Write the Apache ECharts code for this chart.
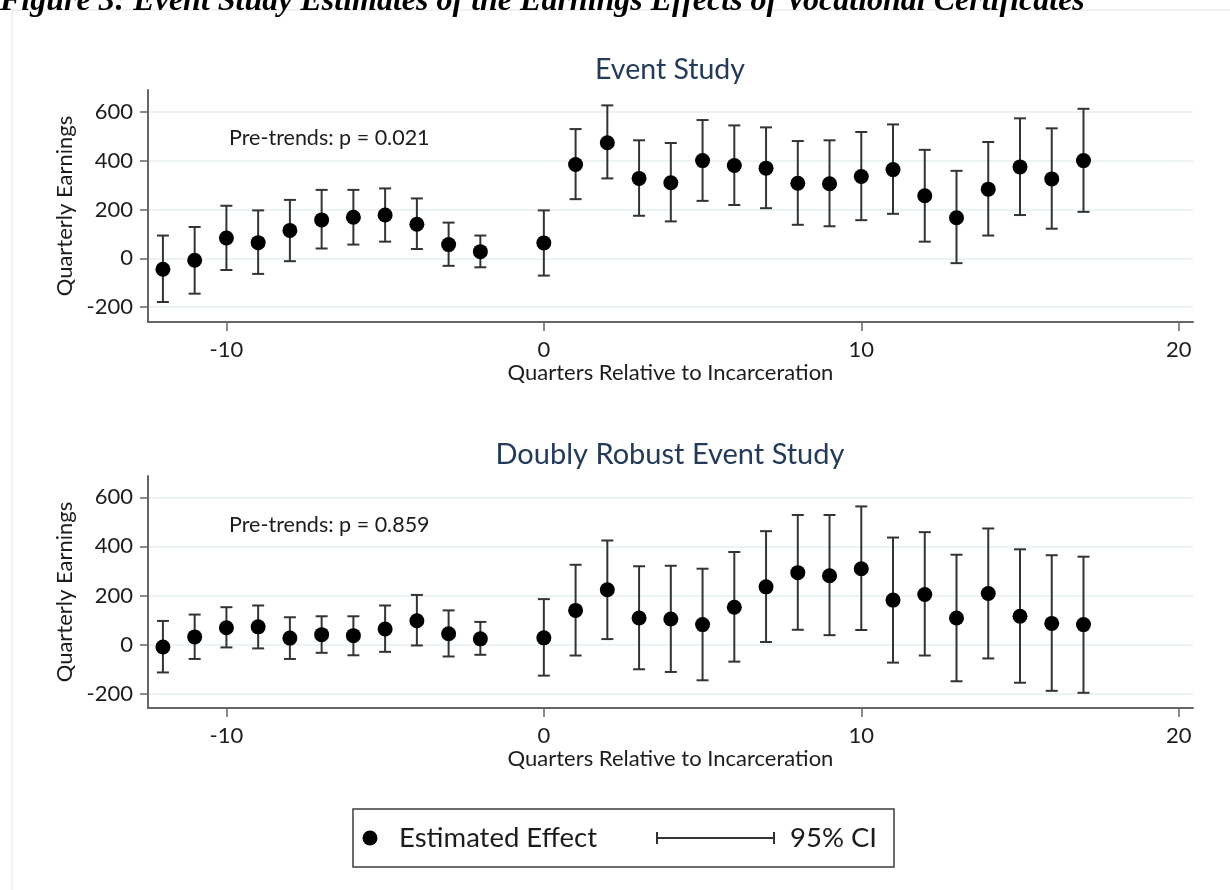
<!DOCTYPE html>
<html>
<head>
<meta charset="utf-8">
<script src="https://cdn.jsdelivr.net/npm/echarts@6/dist/echarts.min.js"></script>
<style>
  html, body { margin: 0; padding: 0; background: #fff; }
  #chart { width: 1230px; height: 890px; }
</style>
</head>
<body>
<div id="chart"></div>
<script>
// ---- data ----
const quarters = [-12, -11, -10, -9, -8, -7, -6, -5, -4, -3, -2, 0, 1, 2, 3, 4, 5, 6, 7, 8, 9, 10, 11, 12, 13, 14, 15, 16, 17];

// Event Study
const esEst = [-45, -8, 83, 64, 114, 157, 168, 177, 139, 56, 27, 63, 384, 473, 327, 309, 400, 380, 369, 307, 305, 335, 363, 256, 166, 283, 374, 325, 400];
const esLo  = [-179, -145, -48, -64, -12, 40, 56, 68, 38, -31, -37, -71, 242, 327, 174, 151, 235, 218, 205, 137, 131, 156, 182, 68, -20, 93, 177, 121, 190];
const esHi  = [93, 128, 215, 196, 239, 280, 280, 286, 245, 146, 93, 196, 529, 626, 483, 472, 566, 544, 536, 480, 483, 517, 548, 444, 358, 476, 573, 532, 612];

// Doubly Robust Event Study
const drEst = [-10, 31, 68, 72, 26, 40, 36, 63, 97, 44, 23, 27, 139, 223, 108, 104, 81, 152, 235, 293, 280, 309, 181, 204, 108, 208, 115, 86, 81];
const drLo  = [-114, -59, -12, -16, -59, -34, -44, -30, -4, -49, -42, -127, -45, 22, -101, -112, -146, -70, 10, 60, 38, 59, -74, -45, -150, -57, -156, -189, -197];
const drHi  = [96, 122, 152, 159, 111, 115, 115, 159, 202, 139, 92, 185, 325, 424, 319, 321, 309, 377, 462, 528, 528, 563, 436, 458, 366, 473, 388, 364, 358];

const xTickValues = [-10, 0, 10, 20];
const yTickValues = [-200, 0, 200, 400, 600];

const panelTitles = ['Event Study', 'Doubly Robust Event Study'];
const preTrendNotes = ['Pre-trends: p = 0.021', 'Pre-trends: p = 0.859'];
const xAxisName = 'Quarters Relative to Incarceration';
const yAxisName = 'Quarterly Earnings';
const legendLabels = ['Estimated Effect', '95% CI'];
const caption = 'Figure 3: Event Study Estimates of the Earnings Effects of Vocational Certificates';

// ---- chart ----
const FONT = 'Lato, "Open Sans", sans-serif';
const TXT = '#1c1c1c';
const AXC = '#666666';

function toPoints(est) { return quarters.map((q, i) => [q, est[i]]); }
function toBars(lo, hi) { return quarters.map((q, i) => [q, lo[i], hi[i]]); }

function renderErr(params, api) {
  const x = api.value(0);
  const pLo = api.coord([x, api.value(1)]);
  const pHi = api.coord([x, api.value(2)]);
  const hw = 6;
  const st = { stroke: '#333333', lineWidth: 2 };
  return {
    type: 'group',
    children: [
      { type: 'line', shape: { x1: pLo[0], y1: pLo[1], x2: pHi[0], y2: pHi[1] }, style: st },
      { type: 'line', shape: { x1: pLo[0] - hw, y1: pLo[1], x2: pLo[0] + hw, y2: pLo[1] }, style: st },
      { type: 'line', shape: { x1: pHi[0] - hw, y1: pHi[1], x2: pHi[0] + hw, y2: pHi[1] }, style: st }
    ]
  };
}

function xAxisCfg(gi) {
  return {
    type: 'value', gridIndex: gi, min: -12.47, max: 20.45,
    name: xAxisName, nameLocation: 'middle', nameGap: 38,
    nameTextStyle: { fontFamily: FONT, fontSize: 22, color: TXT },
    axisLine: { show: true, onZero: false, lineStyle: { color: AXC, width: 2 } },
    axisTick: { show: true, length: 9, customValues: xTickValues, lineStyle: { color: AXC, width: 1.5 } },
    axisLabel: { customValues: xTickValues, margin: 17, fontFamily: FONT, fontSize: 22, color: TXT },
    splitLine: { show: false }
  };
}
function yAxisCfg(gi, mn, mx) {
  return {
    type: 'value', gridIndex: gi, min: mn, max: mx,
    name: yAxisName, nameLocation: 'middle', nameGap: 69,
    nameTextStyle: { fontFamily: FONT, fontSize: 22, color: TXT },
    axisLine: { show: true, onZero: false, lineStyle: { color: AXC, width: 2 } },
    axisTick: { show: true, length: 8, customValues: yTickValues, lineStyle: { color: AXC, width: 1.5 } },
    axisLabel: { customValues: yTickValues, margin: 15, fontFamily: FONT, fontSize: 22, color: TXT },
    splitLine: { show: true, lineStyle: { color: '#e6eff1', width: 1.5 } }
  };
}

const chart = echarts.init(document.getElementById('chart'), null, { renderer: 'canvas' });

const noteStyle = { fontFamily: FONT, fontSize: 21.5, fill: TXT, textVerticalAlign: 'middle' };

chart.setOption({
  animation: false,
  backgroundColor: '#ffffff',
  grid: [
    { left: 148, top: 90, width: 1045, height: 232 },
    { left: 148, top: 476, width: 1045, height: 232 }
  ],
  xAxis: [xAxisCfg(0), xAxisCfg(1)],
  yAxis: [yAxisCfg(0, -261, 689), yAxisCfg(1, -259, 687)],
  series: [
    { name: '95% CI', type: 'custom', xAxisIndex: 0, yAxisIndex: 0, renderItem: renderErr, data: toBars(esLo, esHi), z: 2 },
    { name: 'Estimated Effect', type: 'scatter', xAxisIndex: 0, yAxisIndex: 0, data: toPoints(esEst), symbolSize: 15, itemStyle: { color: '#000', opacity: 1 }, z: 3 },
    { name: '95% CI', type: 'custom', xAxisIndex: 1, yAxisIndex: 1, renderItem: renderErr, data: toBars(drLo, drHi), z: 2 },
    { name: 'Estimated Effect', type: 'scatter', xAxisIndex: 1, yAxisIndex: 1, data: toPoints(drEst), symbolSize: 15, itemStyle: { color: '#000', opacity: 1 }, z: 3 }
  ],
  graphic: [
    // page frame
    { type: 'rect', shape: { x: 12, y: 10, width: 1300, height: 1000 }, style: { fill: 'none', stroke: '#e4e4e4', lineWidth: 1 }, silent: true, z: 0 },
    // cut-off caption
    { type: 'text', x: 0, y: -14, style: { text: caption, fontFamily: '"Liberation Serif", "Times New Roman", serif', fontWeight: 'bold', fontStyle: 'italic', fontSize: 32, fill: '#000', textVerticalAlign: 'top' }, z: 10 },
    // panel titles
    { type: 'text', x: 670, y: 70, style: { text: panelTitles[0], fontFamily: FONT, fontSize: 28.5, fill: '#243a5a', textAlign: 'center', textVerticalAlign: 'middle' } },
    { type: 'text', x: 670, y: 455, style: { text: panelTitles[1], fontFamily: FONT, fontSize: 29, fill: '#243a5a', textAlign: 'center', textVerticalAlign: 'middle' } },
    // pre-trend notes
    { type: 'text', x: 229, y: 138, style: Object.assign({ text: preTrendNotes[0] }, noteStyle) },
    { type: 'text', x: 229, y: 525, style: Object.assign({ text: preTrendNotes[1] }, noteStyle) },
    // legend
    { type: 'rect', shape: { x: 353, y: 809, width: 541, height: 58 }, style: { fill: '#fff', stroke: '#3c3c3c', lineWidth: 1.5 } },
    { type: 'circle', shape: { cx: 370, cy: 838, r: 7.5 }, style: { fill: '#000' } },
    { type: 'text', x: 399, y: 838, style: { text: legendLabels[0], fontFamily: FONT, fontSize: 27.5, fill: TXT, textVerticalAlign: 'middle' } },
    { type: 'line', shape: { x1: 657, y1: 838, x2: 774, y2: 838 }, style: { stroke: '#333333', lineWidth: 2 } },
    { type: 'line', shape: { x1: 657, y1: 832, x2: 657, y2: 844 }, style: { stroke: '#333333', lineWidth: 2 } },
    { type: 'line', shape: { x1: 774, y1: 832, x2: 774, y2: 844 }, style: { stroke: '#333333', lineWidth: 2 } },
    { type: 'text', x: 790, y: 838, style: { text: legendLabels[1], fontFamily: FONT, fontSize: 27.5, fill: TXT, textVerticalAlign: 'middle' } }
  ]
});
</script>
</body>
</html>
